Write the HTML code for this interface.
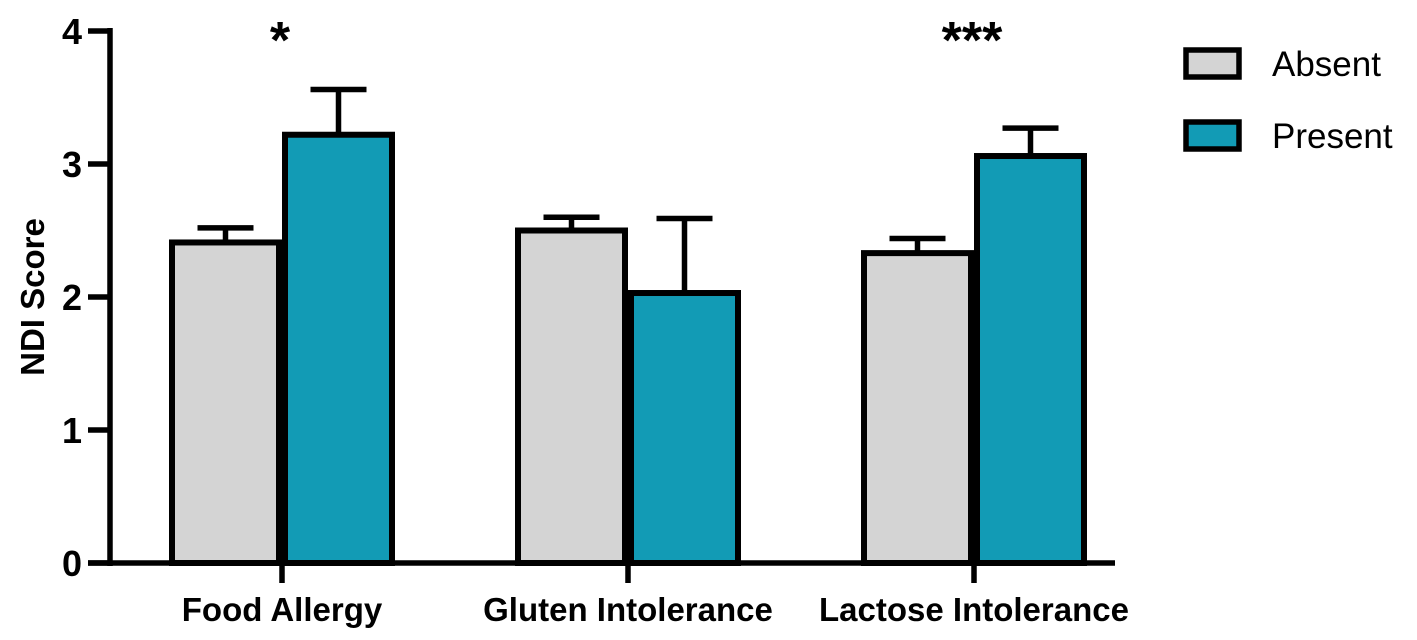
<!DOCTYPE html>
<html><head><meta charset="utf-8"><style>
body{margin:0;background:#fff}
text{font-family:"Liberation Sans",Arial,sans-serif;font-weight:bold;fill:#000}
</style></head><body>
<svg id="chart" width="1417" height="635" viewBox="0 0 1417 635" xmlns="http://www.w3.org/2000/svg">
<g id="axes"></g><g id="bars"></g>
<g>
<rect x="1186" y="50" width="53" height="27" fill="#d4d4d4" stroke="#000" stroke-width="5.5"/>
<text x="1272" y="76" font-size="35" style="font-weight:normal">Absent</text>
<rect x="1186" y="122" width="53" height="27" fill="#129bb5" stroke="#000" stroke-width="5.5"/>
<text x="1272" y="148" font-size="35" style="font-weight:normal">Present</text>
</g>
</svg>
<script>
const categories=["Food Allergy","Gluten Intolerance","Lactose Intolerance"];
const absentMean=[2.41,2.50,2.33];
const absentErr=[0.11,0.10,0.11];
const presentMean=[3.22,2.03,3.06];
const presentErr=[0.34,0.56,0.21];
const significance=["*","","***"];
const yTicks=[0,1,2,3,4];

const NS="http://www.w3.org/2000/svg";
const x0=110,y0=563,pxPerUnit=133,groupStart=282,groupStep=346,barW=113;
const y=v=>y0-v*pxPerUnit;
const cx=i=>groupStart+i*groupStep;
function mk(tag,attrs,parent){const e=document.createElementNS(NS,tag);for(const k in attrs)e.setAttribute(k,attrs[k]);parent.appendChild(e);return e;}
const axes=document.getElementById('axes'),bars=document.getElementById('bars');

let l=mk('line',{x1:x0,y1:y(4)-3,x2:x0,y2:y0+3,stroke:'#000','stroke-width':5.5},axes);


l=mk('line',{x1:88,y1:y0,x2:1115,y2:y0,stroke:'#000','stroke-width':5.5},axes);


yTicks.forEach(t=>{
  const tk=mk('line',{x1:88,y1:y(t),x2:x0,y2:y(t),stroke:'#000','stroke-width':5.5},axes);
  
  
  const tx=mk('text',{x:82,y:y(t)+13,'font-size':36,'text-anchor':'end'},axes);
  tx.textContent=t;
  
  
});
const yt=mk('text',{x:0,y:0,'font-size':33,'text-anchor':'middle',transform:'translate(44,297) rotate(-90)'},axes);
yt.textContent='NDI Score';



function bar(xl,v,e,fill,name){
  const g=mk('g',{},bars);
  
  
  const xm=xl+barW/2;
  mk('line',{x1:xm,y1:y(v),x2:xm,y2:y(v+e),stroke:'#000','stroke-width':5.5},g);
  mk('line',{x1:xm-28,y1:y(v+e),x2:xm+28,y2:y(v+e),stroke:'#000','stroke-width':5.5},g);
  mk('rect',{x:xl+3,y:y(v),width:barW-6,height:y0-y(v),fill:fill,stroke:'#000','stroke-width':6},g);
}
categories.forEach((c,i)=>{
  const c0=cx(i);
  bar(c0-barW,absentMean[i],absentErr[i],'#d4d4d4','bar-absent-'+i);
  bar(c0,presentMean[i],presentErr[i],'#129bb5','bar-present-'+i);
  const tk=mk('line',{x1:c0,y1:y0,x2:c0,y2:y0+20,stroke:'#000','stroke-width':5.5},axes);
  
  
  const tx=mk('text',{x:c0,y:621,'font-size':33,'text-anchor':'middle'},axes);
  tx.textContent=c;
  
  
  if(significance[i]){
    const s=mk('text',{x:c0-2,y:58,'font-size':52,'text-anchor':'middle'},axes);
    s.textContent=significance[i];
    
    
  }
});
</script>
</body></html>
